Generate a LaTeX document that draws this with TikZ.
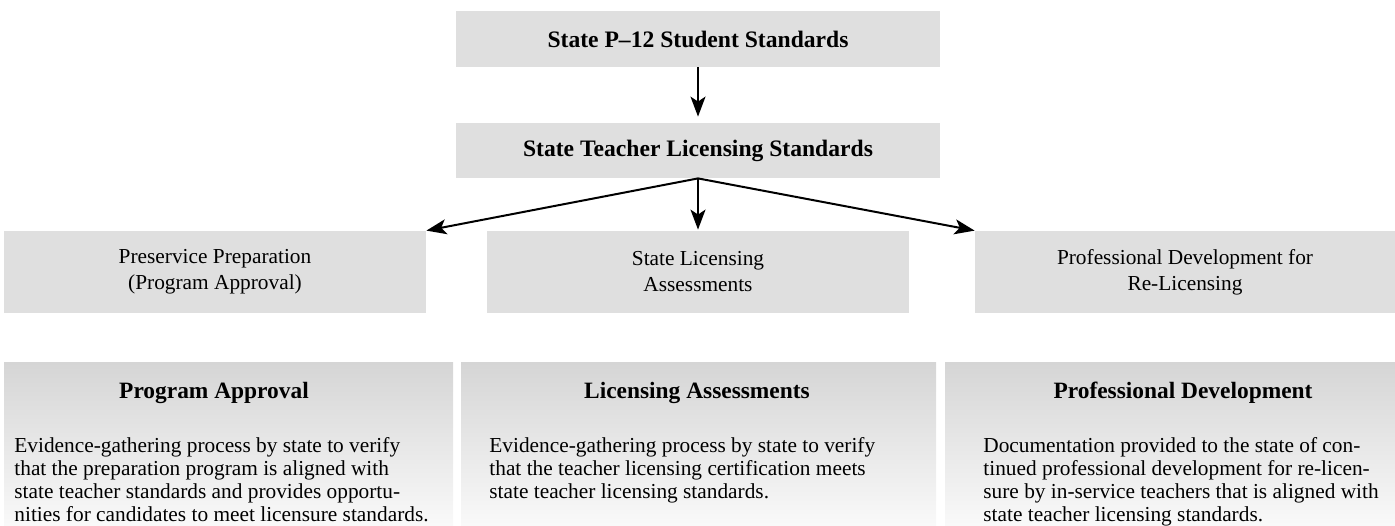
\documentclass[tikz,border=0pt]{standalone}
\usepackage{fontspec}
\setmainfont{Liberation Serif}
\usetikzlibrary{arrows.meta}
\definecolor{boxgray}{HTML}{DFDFDF}
\definecolor{paneltop}{HTML}{D5D5D5}
\definecolor{panelbot}{HTML}{F9F9F9}
\begin{document}
\begin{tikzpicture}[x=0.5pt, y=-0.5pt,
  stdbox/.style={fill=boxgray, draw=none, inner sep=0pt, align=center},
  topbox/.style={stdbox, minimum width=242pt, minimum height=28pt,
    font=\fontsize{11.8pt}{14pt}\selectfont\bfseries},
  rowbox/.style={stdbox, minimum height=41pt,
    font=\fontsize{10.67pt}{13pt}\selectfont},
  panel/.style={draw=none, inner sep=0pt, minimum height=81.5pt,
    top color=paneltop, bottom color=panelbot},
  panelhead/.style={anchor=base, inner sep=0pt,
    font=\fontsize{11.7pt}{14pt}\selectfont\bfseries},
  panelbody/.style={anchor=north west, inner sep=0pt, align=left,
    font=\fontsize{10.67pt}{11.35pt}\selectfont},
  flow/.style={-{Stealth[length=10pt, width=7.5pt, inset=2.5pt]}, line width=1pt}
]
\useasboundingbox (0,0) rectangle (1395,525);

% standards chain
\node[topbox] (p12) at (698,39) {State P–12 Student Standards};
\node[topbox, minimum height=27.5pt] (tls) at (698,150.5) {State Teacher Licensing Standards};

% three routes to licensing
\node[rowbox, minimum width=211pt] (prep) at (215,272) {Preservice Preparation\\(Program Approval)};
\node[rowbox, minimum width=211pt] (assess) at (698,272) {State Licensing\\Assessments};
\node[rowbox, minimum width=210pt] (pd) at (1185,272) {Professional Development for\\Re-Licensing};

\draw[flow, shorten >=3pt] (p12.south) -- (tls.north);
\draw[flow] (tls.south) -- (prep.north east);
\draw[flow, shorten >=0.5pt] (tls.south) -- (assess.north);
\draw[flow] (tls.south) -- (pd.north west);

% description panels
\node[panel, minimum width=224.5pt] (pa) at (228.5,443.5) {};
\node[panel, minimum width=237.5pt] (la) at (698.5,443.5) {};
\node[panel, minimum width=225pt] (dv) at (1170,443.5) {};

\node[panelhead] (pahead) at (214,398) {Program Approval};
\node[panelhead] (lahead) at (697,398) {Licensing Assessments};
\node[panelhead] (dvhead) at (1183,398) {Professional Development};

\node[panelbody] (pabody) at (14,437.5) {Evidence-gathering process by state to verify\\that the preparation program is aligned with\\state teacher standards and provides opportu-\\nities for candidates to meet licensure standards.};
\node[panelbody] (labody) at (489,437.5) {Evidence-gathering process by state to verify\\that the teacher licensing certification meets\\state teacher licensing standards.};
\node[panelbody] (dvbody) at (983,437.5) {Documentation provided to the state of con-\\tinued professional development for re-licen-\\sure by in-service teachers that is aligned with\\state teacher licensing standards.};
\end{tikzpicture}
\end{document}
